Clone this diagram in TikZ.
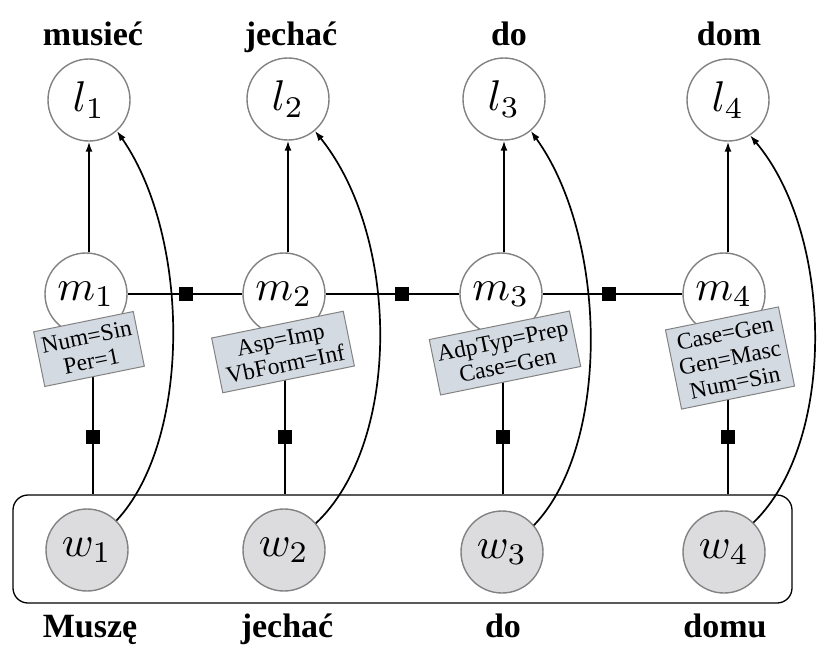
\documentclass[tikz,border=0pt]{standalone}
\usepackage{graphicx}
\usepackage{fontspec}
\setmainfont{Liberation Serif}
\usetikzlibrary{arrows.meta,backgrounds}
\definecolor{ringgray}{RGB}{130,130,130}
\definecolor{obsfill}{RGB}{220,220,222}
\definecolor{featfill}{RGB}{212,218,226}
\newcommand{\vlab}[1]{\scalebox{4.3}{$#1$}}
\tikzset{
  varnode/.style={circle,draw=ringgray,line width=1.4pt,fill=white,minimum size=82pt,inner sep=0pt},
  obsnode/.style={varnode,fill=obsfill},
  factor/.style={rectangle,fill=black,draw=black,minimum size=13pt,inner sep=0pt},
  featbox/.style={rectangle,draw=ringgray,line width=1pt,fill=featfill,rotate=11.5,align=center,inner xsep=5pt,inner ysep=7.5pt,font=\fontsize{23.5}{25}\selectfont},
  wordlabel/.style={anchor=base,font=\fontsize{34}{38}\selectfont\bfseries,inner sep=0pt},
  conn/.style={line width=1.7pt,black},
  arr/.style={conn,-{Latex[length=10pt,width=7pt]}},
}
\begin{document}
\begin{tikzpicture}[x=1pt,y=-1pt]
\useasboundingbox (0,0) rectangle (826,656);
% plate
\node[draw=black,line width=1.3pt,rounded corners=15pt,minimum width=779pt,minimum height=108pt,inner sep=0pt] (plate) at (402.5,549) {};
% top labels
\node[wordlabel] (t1) at (93,45) {musieć};
\node[wordlabel] (t2) at (291,45) {jechać};
\node[wordlabel] (t3) at (509,45) {do};
\node[wordlabel] (t4) at (729,45) {dom};
% bottom labels
\node[wordlabel] (b1) at (90,637) {Muszę};
\node[wordlabel] (b2) at (287,637) {jechać};
\node[wordlabel] (b3) at (503,637) {do};
\node[wordlabel] (b4) at (725,637) {domu};
% lemma nodes
\node[varnode] (l1) at (89,100) {\vlab{l_1}};
\node[varnode] (l2) at (288,99) {\vlab{l_2}};
\node[varnode] (l3) at (504,99) {\vlab{l_3}};
\node[varnode] (l4) at (728,100) {\vlab{l_4}};
% morph nodes
\node[varnode] (m1) at (86,294) {\vlab{m_1}};
\node[varnode] (m2) at (284,294) {\vlab{m_2}};
\node[varnode] (m3) at (501,294) {\vlab{m_3}};
\node[varnode] (m4) at (724,294) {\vlab{m_4}};
% word nodes
\node[obsnode] (w1) at (87,550) {\vlab{w_1}};
\node[obsnode] (w2) at (284,550) {\vlab{w_2}};
\node[obsnode] (w3) at (502,552) {\vlab{w_3}};
\node[obsnode] (w4) at (724,552) {\vlab{w_4}};
% factors
\node[factor] (f12) at (186,294) {};
\node[factor] (f23) at (402,294) {};
\node[factor] (f34) at (609,294) {};
\node[factor] (g1) at (93,437) {};
\node[factor] (g2) at (285,437) {};
\node[factor] (g3) at (503,437) {};
\node[factor] (g4) at (728,437) {};
% feature boxes
\node[featbox] (fb1) at (89,349) {Num=Sin\\Per=1};
\node[featbox,inner xsep=7pt] (fb2) at (283,352) {Asp=Imp\\VbForm=Inf};
\node[featbox] (fb3) at (505,353) {AdpTyp=Prep\\Case=Gen};
\node[featbox,inner xsep=6pt] (fb4) at (730,358) {Case=Gen\\Gen=Masc\\Num=Sin};
\begin{scope}[on background layer]
  \draw[conn] (m1) -- (f12) -- (m2) -- (f23) -- (m3) -- (f34) -- (m4);
  \foreach \i in {1,2,3,4}{
    \draw[conn] (fb\i.center -| g\i) -- (g\i) -- (g\i |- plate.north);
  }
\end{scope}
% vertical arrows m -> l
\foreach \i in {1,2,3,4}{
  \draw[arr] (m\i.north -| l\i) -- (l\i.south);
}
% curved arrows w -> l
\draw[arr] (w1.45) .. controls +(75,-80) and +(74,107) .. (l1.-48);
\draw[arr] (w2.40) .. controls +(85,-80) and +(86,107) .. (l2.-50);
\draw[arr] (w3.40) .. controls +(77,-80) and +(77,107) .. (l3.-50);
\draw[arr] (w4.45) .. controls +(83,-80) and +(84,100) .. (l4.-58);
\end{tikzpicture}
\end{document}
